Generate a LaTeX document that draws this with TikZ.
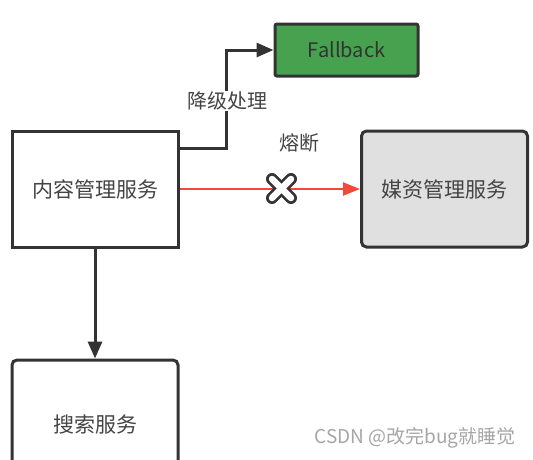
\documentclass[tikz,border=0pt]{standalone}
\usepackage{fontspec}
\setmainfont{Noto Sans CJK SC}
\usetikzlibrary{arrows.meta}
\definecolor{edge}{HTML}{333333}
\definecolor{txt}{HTML}{444444}
\definecolor{fbgreen}{HTML}{46A24F}
\definecolor{redline}{HTML}{F2493A}
\definecolor{boxgray}{HTML}{E0E0E0}
\tikzset{
  box/.style={draw=edge, line width=3pt, minimum width=166pt, minimum height=116pt, inner sep=0pt, text=txt, font=\fontsize{21}{24}\selectfont},
  conn/.style={draw=edge, line width=3pt, -{Triangle[length=17pt,width=14pt]}},
  lbl/.style={text=txt, font=\fontsize{20}{22}\selectfont, inner sep=1pt}
}
\begin{document}
\begin{tikzpicture}[x=1pt,y=-1pt]
\useasboundingbox (0,0) rectangle (533,459);
\fill[white] (0,0) rectangle (533,459);
\begin{scope}
\clip (0,0) rectangle (533,459);
\node[box] (cms) at (95,189) {内容管理服务};
\node[box, fill=fbgreen, minimum width=143pt, minimum height=52pt, rounded corners=2pt, text=edge, font=\fontsize{20}{22}\selectfont] (fb) at (346.5,50) {Fallback};
\node[box, fill=boxgray, rounded corners=5pt] (media) at (444.5,189) {媒资管理服务};
\node[box, rounded corners=5pt, minimum height=130pt] (search) at (95,425) {搜索服务};
\end{scope}
\coordinate (fbturn) at (226,148);
\draw[conn] (cms.east |- fbturn) -- (fbturn) -- (fbturn |- fb.west) -- (fb.west);
\node[lbl, fill=white] (jj) at (227,101) {降级处理};
\draw[draw=redline, line width=2.2pt, -{Triangle[length=17pt,width=13pt]}] (cms.east) -- (media.west);
\coordinate (xmark) at (281.5,188.5);
\draw[edge, line width=12pt, line cap=round] ([shift={(-9.5,-9.5)}]xmark) -- ([shift={(9.5,9.5)}]xmark);
\draw[edge, line width=12pt, line cap=round] ([shift={(-9.5,9.5)}]xmark) -- ([shift={(9.5,-9.5)}]xmark);
\draw[white, line width=6.5pt, line cap=round] ([shift={(-9.5,-9.5)}]xmark) -- ([shift={(9.5,9.5)}]xmark);
\draw[white, line width=6.5pt, line cap=round] ([shift={(-9.5,9.5)}]xmark) -- ([shift={(9.5,-9.5)}]xmark);
\node[lbl] (rd) at (299,143) {熔断};
\draw[conn] (cms.south) -- (search.north);
\node[text=gray!70, font=\fontsize{19}{21}\selectfont, inner sep=0pt] (wm) at (415,438) {CSDN @改完bug就睡觉};
\end{tikzpicture}
\end{document}
